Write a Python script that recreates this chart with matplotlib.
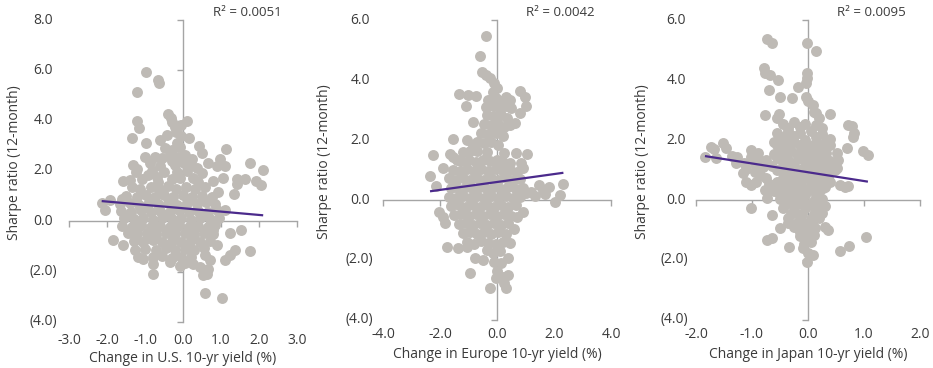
import matplotlib.pyplot as plt

plt.rcParams['font.family'] = ['Open Sans', 'DejaVu Sans']

# values: (change in 10-yr yield, 12-month Sharpe ratio)
us_points = [
    (-0.97, 5.94), (-0.67, 5.61), (-0.62, 5.50), (-1.22, 5.14),
    (-0.40, 4.28), (-0.32, 4.12), (-1.22, 3.99), (-1.15, 3.71), (0.10, 3.98), (-0.28, 3.95),
    (-0.22, 3.75), (-0.05, 3.82), (-1.35, 3.31), (-0.97, 3.13), (-0.60, 3.22), (-0.42, 3.45),
    (-0.18, 3.55), (-0.05, 3.38), (0.15, 3.32), (-0.08, 2.95), (0.43, 2.98), (0.49, 2.72),
    (1.13, 2.86), (0.67, 2.32), (0.97, 2.49), (0.89, 2.19), (1.10, 2.19), (1.75, 2.32), (2.11, 2.03),
    (-1.31, 2.23), (-1.22, 2.09), (-1.00, 2.55), (-0.74, 2.56), (-0.56, 2.50), (-0.34, 2.58),
    (-0.12, 2.56), (0.05, 2.62), (0.23, 2.48), (-0.30, 2.85), (-0.16, 3.10), (-0.47, 2.92),
    (0.20, 2.25), (-0.20, 2.22), (-0.88, 2.30), (-0.60, 2.20), (0.02, 2.30), (0.38, 2.10),
    (-1.57, 1.60), (-1.09, 1.70), (-0.91, 1.83), (-0.69, 1.76), (-0.30, 1.70), (-0.08, 1.74),
    (0.27, 1.74), (0.80, 1.60), (1.06, 1.74), (1.41, 1.70), (1.63, 1.70), (1.92, 1.60), (2.04, 1.45),
    (1.41, 1.50), (0.93, 1.17), (1.34, 1.10), (1.10, 0.44),
    (-1.25, 1.95), (-0.82, 2.00), (-0.50, 1.98), (-0.15, 1.95), (0.10, 2.00), (0.50, 1.92),
    (-1.35, 1.35), (-1.12, 1.28), (-0.85, 1.38), (-0.62, 1.30), (-0.40, 1.42), (-0.18, 1.30),
    (0.08, 1.38), (0.32, 1.28), (0.58, 1.35),
    (-1.50, 1.02), (-1.22, 0.98), (-0.98, 1.05), (-0.74, 0.95), (-0.50, 1.05), (-0.26, 0.98),
    (0.00, 1.05), (0.24, 0.95), (0.50, 1.02), (0.76, 0.98),
    (-2.14, 0.73), (-2.05, 0.44), (-1.92, 0.86), (-1.61, 0.90), (-1.66, 0.68), (-1.40, 0.72),
    (-1.15, 0.66), (-0.90, 0.75), (-0.65, 0.68), (-0.40, 0.74), (-0.15, 0.66), (0.10, 0.72),
    (0.36, 0.68), (0.60, 0.75), (0.85, 0.70),
    (-1.62, 0.42), (-1.36, 0.38), (-1.10, 0.45), (-0.85, 0.36), (-0.60, 0.42), (-0.35, 0.38),
    (-0.10, 0.45), (0.15, 0.36), (0.40, 0.42), (0.65, 0.38), (0.90, 0.44),
    (-1.55, 0.12), (-1.30, 0.08), (-1.05, 0.14), (-0.80, 0.06), (-0.55, 0.12), (-0.30, 0.08),
    (-0.05, 0.14), (0.20, 0.06), (0.45, 0.12), (0.70, 0.08), (0.95, 0.12),
    (-1.60, -0.18), (-1.35, -0.22), (-1.10, -0.15), (-0.85, -0.24), (-0.60, -0.18), (-0.35, -0.22),
    (-0.10, -0.16), (0.15, -0.24), (0.40, -0.18), (0.65, -0.22), (0.85, -0.16),
    (-1.45, -0.48), (-1.20, -0.52), (-0.95, -0.46), (-0.70, -0.54), (-0.45, -0.48), (-0.20, -0.52),
    (0.05, -0.46), (0.30, -0.54), (0.55, -0.48), (0.80, -0.50),
    (-1.83, -0.76), (-1.30, -0.78), (-1.05, -0.84), (-0.80, -0.76), (-0.55, -0.82), (-0.30, -0.78),
    (-0.05, -0.84), (0.20, -0.76), (0.45, -0.82), (0.70, -0.78),
    (-1.57, -0.95), (-1.26, -1.15), (-1.00, -1.08), (-0.72, -1.12), (-0.46, -1.06), (-0.20, -1.14),
    (0.05, -1.08), (0.30, -1.12), (0.55, -1.05), (0.89, -0.95),
    (-1.18, -1.42), (-1.04, -1.48), (-0.78, -1.40), (-0.55, -1.38), (-0.30, -1.45), (-0.05, -1.40),
    (0.20, -1.42), (0.58, -1.35), (0.71, -1.55),
    (-0.78, -1.68), (-0.78, -2.11), (-0.08, -1.79), (0.27, -1.68), (0.45, -1.82), (0.53, -2.15),
    (0.67, -1.88), (0.62, -2.10), (0.58, -2.85), (1.02, -3.03), (1.24, -0.46), (1.52, -0.36),
    (1.76, -1.18), (1.37, -1.15), (1.24, -1.35), (1.10, -1.55), (-0.35, -1.62), (0.05, -1.65),
    (-1.45, 0.25), (-1.20, -0.35), (-0.95, 0.55), (-0.70, -0.30), (-0.45, 0.25), (-0.20, -0.35),
    (0.05, 0.55), (0.30, -0.35), (0.55, 0.25), (0.78, -0.35), (-0.95, -0.65), (-0.40, -0.95),
    (0.15, -0.95), (-0.65, 1.55), (0.40, 1.55), (-1.40, 1.65), (-0.30, 2.40),
]

eu_points = [
    (-0.37, 5.48), (-0.60, 4.80), (-0.51, 4.28), (-0.37, 4.17), (-0.26, 4.06), (-0.10, 3.90),
    (0.00, 3.72), (-0.15, 3.60), (-1.33, 3.53), (-1.01, 3.50), (-0.72, 3.48), (-1.10, 3.13),
    (0.79, 3.64), (0.97, 3.44), (1.03, 3.13), (0.79, 2.91), (0.33, 3.44), (0.44, 3.33),
    (0.50, 3.06), (0.62, 2.56), (0.44, 2.50), (-0.84, 2.61),
    (-0.30, 3.35), (-0.05, 3.40), (0.15, 3.30), (-0.40, 3.10), (-0.15, 3.15), (0.10, 3.05), (0.30, 3.15),
    (-0.35, 2.85), (-0.10, 2.80), (0.15, 2.85), (0.35, 2.75),
    (-0.45, 2.55), (-0.20, 2.50), (0.05, 2.55), (0.25, 2.45),
    (-0.55, 2.25), (-0.30, 2.20), (-0.05, 2.25), (0.20, 2.15),
    (-0.70, 1.95), (-0.45, 1.90), (-0.20, 1.95), (0.05, 1.85),
    (-1.54, 2.02), (-1.05, 2.00), (-0.85, 1.85),
    (-2.23, 1.50), (-2.35, 0.80), (-2.14, 0.47), (-1.91, 1.06), (-1.65, 1.55), (-1.55, 1.45),
    (-1.40, 1.35), (-1.20, 1.60), (-0.95, 1.65), (-0.70, 1.62), (-0.35, 1.60), (0.25, 1.58),
    (0.68, 1.58), (1.05, 1.53), (0.85, 1.22), (0.91, 1.06), (0.44, 1.22),
    (-1.25, 1.30), (-1.00, 1.35), (-0.75, 1.28), (-0.50, 1.32), (-0.25, 1.30), (0.00, 1.35), (0.20, 1.28),
    (-1.55, 1.00), (-1.30, 0.98), (-1.05, 1.05), (-0.80, 0.96), (-0.55, 1.02), (-0.30, 0.98),
    (-0.05, 1.04), (0.20, 0.96), (0.45, 1.00), (0.70, 0.95),
    (-1.70, 0.72), (-1.45, 0.68), (-1.20, 0.74), (-0.95, 0.66), (-0.70, 0.72), (-0.45, 0.68),
    (-0.20, 0.74), (0.05, 0.66), (0.30, 0.72), (0.55, 0.68), (0.80, 0.70),
    (-1.60, 0.40), (-1.35, 0.36), (-1.10, 0.44), (-0.85, 0.38), (-0.60, 0.42), (-0.35, 0.36),
    (-0.10, 0.44), (0.15, 0.38), (0.40, 0.42), (0.65, 0.36), (0.90, 0.40),
    (1.82, 0.44), (1.61, 0.33), (1.49, 0.50), (1.20, 0.28), (1.03, 0.22), (2.33, 0.52),
    (2.22, 0.17), (2.02, -0.06), (1.35, 0.15), (1.70, 0.20),
    (-1.70, 0.10), (-1.45, 0.06), (-1.20, 0.14), (-0.95, 0.08), (-0.70, 0.12), (-0.45, 0.06),
    (-0.20, 0.14), (0.05, 0.08), (0.30, 0.12), (0.55, 0.06), (0.80, 0.10),
    (-1.60, -0.20), (-1.35, -0.16), (-1.10, -0.24), (-0.85, -0.18), (-0.60, -0.22), (-0.35, -0.16),
    (-0.10, -0.24), (0.15, -0.18), (0.40, -0.22), (0.65, -0.16), (0.91, -0.39),
    (-2.02, -0.40), (-1.91, -0.56), (-1.83, -0.78),
    (-1.50, -0.50), (-1.25, -0.46), (-1.00, -0.54), (-0.75, -0.48), (-0.50, -0.52), (-0.25, -0.46),
    (0.00, -0.54), (0.25, -0.48), (0.50, -0.52), (0.70, -0.55),
    (-1.35, -0.80), (-1.10, -0.76), (-0.85, -0.84), (-0.60, -0.78), (-0.35, -0.82), (-0.10, -0.76),
    (0.15, -0.84), (0.40, -0.78), (0.58, -0.98),
    (-1.20, -1.10), (-0.95, -1.06), (-0.70, -1.14), (-0.45, -1.08), (-0.20, -1.12), (0.05, -1.06), (0.30, -1.14),
    (-1.05, -1.40), (-0.80, -1.45), (-0.55, -1.38), (-0.30, -1.42), (-0.05, -1.46), (0.20, -1.40), (0.44, -1.44),
    (-1.77, -1.58), (-1.36, -1.61), (-1.07, -1.56), (-0.78, -1.94), (-0.49, -2.00), (-0.93, -2.42),
    (-0.26, -2.94), (0.33, -2.94), (0.38, -2.51), (0.20, -2.55), (0.38, -1.94), (-0.15, -1.75),
    (0.10, -1.70), (-0.10, -2.05), (0.15, -2.10), (0.00, -2.35), (-0.05, -2.60), (0.25, -2.75),
    (-0.35, -1.65),
]

jp_points = [
    (-0.74, 5.36), (-0.64, 5.22), (-0.02, 5.22), (0.15, 4.98),
    (-0.79, 4.39), (-0.76, 4.22), (-0.68, 4.17), (-0.54, 4.00), (-0.01, 4.22), (-0.02, 4.06),
    (-0.03, 3.89), (-0.18, 3.78), (-0.70, 3.67), (-0.50, 3.44), (-0.28, 3.41), (-0.03, 3.44),
    (0.09, 3.17), (0.15, 2.89), (0.00, 3.30), (-0.76, 2.83), (0.39, 2.86), (0.20, 2.75),
    (0.10, 2.95), (-0.56, 2.72), (-0.52, 2.86),
    (0.71, 2.50), (0.79, 2.47), (0.83, 2.24), (0.80, 2.10), (0.39, 2.03), (0.70, 1.72),
    (0.98, 1.64), (1.07, 1.50), (0.33, 1.56), (0.51, 1.56), (0.54, 1.33), (0.51, 1.06),
    (0.48, 1.00), (0.57, 0.50), (0.66, 0.44), (0.71, 0.47), (0.26, 0.39),
    (0.30, -0.89), (0.36, -1.00), (1.04, -1.24), (0.58, -1.69), (0.73, -1.53),
    (-0.01, -2.06), (0.00, -1.78), (-0.09, -1.61), (0.09, -1.83), (-0.34, -1.58), (-0.65, -1.28),
    (-0.74, -1.33), (-0.50, -0.94), (-1.02, -0.28), (-0.74, 0.06), (-0.77, 0.33), (-0.65, -0.50),
    (-1.84, 1.44), (-1.74, 1.78), (-1.67, 1.69), (-1.52, 1.89), (-1.47, 1.72), (-1.64, 1.39),
    (-1.35, 1.47), (-1.26, 1.45), (-1.29, 1.23), (-1.02, 1.67), (-0.89, 1.56), (-1.01, 1.44),
    (-1.16, 0.89), (-1.10, 0.61), (-1.01, 0.50), (-0.92, 0.61), (-1.10, 1.05), (-0.95, 0.95),
    (-0.80, 1.10), (-0.65, 1.15), (-0.85, 1.30), (-0.75, 0.75),
    (-0.95, 1.20), (-0.75, 1.35), (-0.70, 0.55), (-0.85, 0.85), (-1.15, 1.25),
    (-0.45, 2.55), (-0.25, 2.60), (-0.05, 2.55), (0.15, 2.50),
    (-0.55, 2.25), (-0.35, 2.30), (-0.15, 2.25), (0.05, 2.30), (0.25, 2.20),
    (-0.60, 1.94), (-0.45, 2.00), (-0.25, 1.95), (-0.05, 2.00), (0.15, 1.95), (0.30, 1.90),
    (-0.50, 1.70), (-0.30, 1.65), (-0.10, 1.70), (0.10, 1.65), (0.25, 1.70),
    (-0.55, 1.40), (-0.35, 1.35), (-0.15, 1.40), (0.05, 1.35), (0.25, 1.42), (0.40, 1.30),
    (-0.45, 1.15), (-0.25, 1.10), (-0.05, 1.15), (0.15, 1.10), (0.35, 1.15),
    (-0.40, 0.88), (-0.30, 0.80), (-0.10, 0.90), (0.10, 0.85), (0.30, 0.90),
    (-0.55, 0.60), (-0.35, 0.62), (-0.15, 0.58), (0.05, 0.62), (0.25, 0.60),
    (-0.60, 0.30), (-0.40, 0.34), (-0.20, 0.28), (0.00, 0.32), (0.20, 0.28),
    (-0.50, 0.02), (-0.30, -0.02), (-0.10, 0.03), (0.10, -0.02), (0.25, 0.02),
    (-0.45, -0.28), (-0.25, -0.32), (-0.05, -0.28), (0.15, -0.32),
    (-0.35, -0.60), (-0.15, -0.58), (0.05, -0.62), (0.20, -0.60),
    (-0.25, -0.90), (-0.05, -0.88), (0.12, -0.92),
    (-0.15, -1.20), (0.02, -1.22), (0.10, -1.15),
    (-0.08, -1.45), (0.05, -1.40),
    (-0.35, 2.05), (-0.15, 2.45), (0.05, 1.80), (-0.40, 1.55), (0.20, 1.25), (-0.20, 0.45),
    (0.15, 0.45), (-0.35, 0.15), (0.05, -0.15), (-0.20, -0.75), (0.30, -0.20), (0.40, 0.60),
    (-0.35, 2.40), (0.25, 2.40), (-0.45, 2.10), (-0.25, 2.12), (0.15, 2.10),
    (-0.55, 1.82), (-0.35, 1.84), (-0.15, 1.82), (0.20, 1.80), (0.40, 1.82),
    (-0.60, 1.55), (-0.20, 1.55), (0.00, 1.52), (0.20, 1.55),
    (-0.45, 1.27), (-0.25, 1.25), (-0.05, 1.27), (0.15, 1.28), (0.35, 1.25),
    (-0.55, 1.00), (-0.35, 1.02), (-0.15, 1.00), (0.05, 1.02), (0.25, 1.00), (0.45, 1.02),
    (-0.45, 0.72), (-0.25, 0.74), (-0.05, 0.72), (0.15, 0.74), (0.35, 0.72),
    (-0.50, 0.45), (-0.30, 0.47), (-0.10, 0.45), (0.05, 0.47), (0.30, 0.45),
    (-0.50, 0.16), (-0.25, 0.17), (-0.05, 0.16), (0.15, 0.17),
    (-0.40, -0.12), (-0.20, -0.14), (0.00, -0.12), (0.20, -0.12),
    (-0.30, -0.45), (-0.10, -0.46), (0.10, -0.45), (0.25, -0.44),
    (-0.35, -0.75), (-0.10, -0.74), (0.08, -0.76),
    (-0.15, -1.05), (0.00, -1.05),
]

# regression lines: (intercept, slope)
us_fit = (0.52, -0.133)
eu_fit = (0.60, 0.132)
jp_fit = (0.925, -0.293)

r2_labels = ["R\u00b2 = 0.0051", "R\u00b2 = 0.0042", "R\u00b2 = 0.0095"]
x_titles = ["Change in U.S. 10-yr yield (%)", "Change in Europe 10-yr yield (%)",
            "Change in Japan 10-yr yield (%)"]
x_ticks = [[-3, -2, -1, 0, 1, 2, 3], [-4, -2, 0, 2, 4], [-2, -1, 0, 1, 2]]
y_ticks = [[-4, -2, 0, 2, 4, 6, 8], [-4, -2, 0, 2, 4, 6], [-4, -2, 0, 2, 4, 6]]

dot_color = "#bebab5"
line_color = "#4b2a8c"
axis_color = "#a5a5a5"
text_color = "#3b3b3b"

W, H = 933, 368
fig = plt.figure(figsize=(W / 100, H / 100), dpi=100)

# pixel layout: (left, right, top, bottom) of the plot box, label offsets
boxes = [(69, 297, 20, 322), (383, 611, 20, 320), (696, 920, 20, 320)]
ylab_pad = [(16, 12), (13, 10), (10, 8)]
xlab_pad = [19, 14, 14]
ytitle_x = [15, 325, 643]
xtitle_y = [358, 355, 355]
r2_x = [247, 560, 871]

panels = [(us_points, us_fit), (eu_points, eu_fit), (jp_points, jp_fit)]

for i, (pts, fit) in enumerate(panels):
    left, right, top, bottom = boxes[i]
    ax = fig.add_axes([left / W, 1 - bottom / H, (right - left) / W, (bottom - top) / H])
    xs = [p[0] for p in pts]
    ys = [p[1] for p in pts]
    ax.scatter(xs, ys, s=62, color=dot_color, linewidths=0, zorder=3)
    ends = [min(xs), max(xs)]
    ax.plot(ends, [fit[0] + fit[1] * v for v in ends], color=line_color, lw=1.6,
            solid_capstyle="butt", zorder=4)

    ax.set_xlim(x_ticks[i][0], x_ticks[i][-1])
    ax.set_ylim(y_ticks[i][0], y_ticks[i][-1])
    ax.set_xticks(x_ticks[i])
    ax.set_yticks(y_ticks[i])
    ax.spines["left"].set_position(("data", 0))
    ax.spines["bottom"].set_position(("data", 0))
    for side in ["top", "right"]:
        ax.spines[side].set_visible(False)
    for side in ["left", "bottom"]:
        ax.spines[side].set_color(axis_color)
        ax.spines[side].set_linewidth(1.0)
        ax.spines[side].set_zorder(2)
    ax.tick_params(axis="both", direction="out", length=4, width=1.0, color=axis_color,
                   labelleft=False, labelbottom=False)
    ax.patch.set_visible(False)

    for v in y_ticks[i]:
        lab = f"({abs(v):.1f})" if v < 0 else f"{v:.1f}"
        pad = ylab_pad[i][1] if v < 0 else ylab_pad[i][0]
        ax.annotate(lab, xy=(0, v), xycoords=("axes fraction", "data"), xytext=(-pad, 0),
                    textcoords="offset pixels", ha="right", va="center", fontsize=10,
                    color=text_color)
    for v in x_ticks[i]:
        ax.annotate(f"{v:.1f}", xy=(v, 0), xycoords=("data", "axes fraction"),
                    xytext=(0, -xlab_pad[i]), textcoords="offset pixels", ha="center",
                    va="center", fontsize=10, color=text_color)

    fig.text(ytitle_x[i] / W, 1 - ((top + bottom) / 2 - 8) / H, "Sharpe ratio (12-month)",
             rotation=90, ha="center", va="center", fontsize=10, color=text_color)
    fig.text((left + right) / 2 / W, 1 - xtitle_y[i] / H, x_titles[i], ha="center",
             va="center", fontsize=10, color=text_color)
    fig.text(r2_x[i] / W, 1 - 12 / H, r2_labels[i], ha="center", va="center",
             fontsize=9.5, color=text_color)

fig.savefig("out.png", dpi=100)
